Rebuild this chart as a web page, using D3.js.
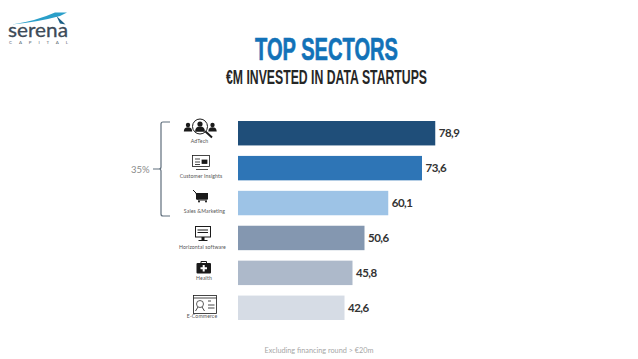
<!DOCTYPE html>
<html>
<head>
<meta charset="utf-8">
<script src="https://cdn.jsdelivr.net/npm/d3@7"></script>
<style>
  html, body { margin: 0; padding: 0; background: #fff; }
  svg { display: block; }
</style>
</head>
<body>
<div id="chart"></div>
<script>
const sectors = ["AdTech", "Customer Insights", "Sales &Marketing", "Horizontal software", "Health", "E-Commerce"];
const invested = [78.9, 73.6, 60.1, 50.6, 45.8, 42.6];
const barColors = ["#1f4e79", "#2e75b6", "#9dc3e6", "#8497b0", "#adb9ca", "#d6dce5"];

const width = 638;
const height = 359;

const svg = d3.select("#chart").append("svg")
    .attr("width", width)
    .attr("height", height);

// scales
const x = d3.scaleLinear().domain([0, 100]).range([238, 488]);
const y = d3.scaleBand().domain(sectors).range([121, 320]).paddingInner(0.3);
const fmt = v => v.toFixed(1).replace(".", ",");

// bars
svg.selectAll(".bar")
    .data(invested)
    .enter()
    .append("rect")
    .attr("class", "bar")
    .attr("x", x(0))
    .attr("y", (d, i) => y(sectors[i]))
    .attr("width", d => x(d) - x(0))
    .attr("height", y.bandwidth())
    .attr("fill", (d, i) => barColors[i]);

// value labels
svg.selectAll(".val")
    .data(invested)
    .enter()
    .append("text")
    .attr("class", "val")
    .attr("x", d => x(d) + 3.5)
    .attr("y", (d, i) => y(sectors[i]) + y.bandwidth() / 2 + 4)
    .attr("font-family", "Lato")
    .attr("font-weight", 700)
    .attr("font-size", 11.5)
    .attr("letter-spacing", -0.5)
    .attr("fill", "#333")
    .text(fmt);

// titles, squeezed because no condensed face matches exactly
function fitted(txt, left, right, base, size, color, heavy) {
    svg.append("text")
        .attr("x", left)
        .attr("y", base)
        .attr("textLength", right - left)
        .attr("lengthAdjust", "spacingAndGlyphs")
        .attr("font-family", "'Liberation Sans Narrow', 'Liberation Sans'")
        .attr("font-weight", 700)
        .attr("font-size", size)
        .attr("fill", color)
        .attr("stroke", color)
        .attr("stroke-width", heavy)
        .text(txt);
}
fitted("TOP SECTORS", 255, 398, 59.5, 31.5, "#1272b8", 0.7);
fitted("€M INVESTED IN DATA STARTUPS", 226, 427, 84, 20, "#262626", 0);

// footer
svg.append("text")
    .attr("x", 319).attr("y", 352.5)
    .attr("text-anchor", "middle")
    .attr("font-family", "Lato")
    .attr("font-size", 7.3)
    .attr("fill", "#a6a6a6")
    .text("Excluding financing round > €20m");

// bracket and share
svg.append("path")
    .attr("d", "M170,122 H163 Q161,122 161,124 V167 Q161,169 159,169 H153 H159 Q161,169 161,171 V214 Q161,216 163,216 H170")
    .attr("fill", "none")
    .attr("stroke", "#5f6e7c")
    .attr("stroke-width", 1.2);
svg.append("text")
    .attr("x", 131).attr("y", 172.5)
    .attr("font-family", "Lato")
    .attr("font-size", 9.5)
    .attr("fill", "#8a8a8a")
    .text("35%");

// sector captions
const labelCenter = [199.5, 201, 204.5, 202.5, 204, 202];
const labelBase = [142.5, 178, 213, 249, 279.5, 318];
sectors.forEach((s, i) => {
    svg.append("text")
        .attr("x", labelCenter[i])
        .attr("y", labelBase[i])
        .attr("text-anchor", "middle")
        .attr("font-family", "Lato")
        .attr("font-size", 5.2)
        .attr("letter-spacing", 0.1)
        .attr("fill", "#555")
        .text(s);
});

// icons
const ink = "#1a1a1a";
function person(g, cx, cy, r) {
    g.append("circle").attr("cx", cx).attr("cy", cy).attr("r", r).attr("fill", ink);
    g.append("path").attr("d", `M${cx - r * 1.9},${cy + r * 3} Q${cx - r * 1.9},${cy + r} ${cx},${cy + r} Q${cx + r * 1.9},${cy + r} ${cx + r * 1.9},${cy + r * 3} Z`).attr("fill", ink);
}

const ad = svg.append("g");
person(ad, 188, 125, 2.2);
person(ad, 212.5, 125, 2.2);
ad.append("circle").attr("cx", 200).attr("cy", 126.5).attr("r", 7.5).attr("fill", "#fff").attr("stroke", ink).attr("stroke-width", 1);
person(ad, 200, 124, 2.6);
ad.append("line").attr("x1", 205.5).attr("y1", 131.5).attr("x2", 212).attr("y2", 137.5).attr("stroke", ink).attr("stroke-width", 2);

const ci = svg.append("g").attr("fill", "none").attr("stroke", ink).attr("stroke-width", 0.8);
ci.append("rect").attr("x", 192.5).attr("y", 155.5).attr("width", 17).attr("height", 11);
ci.append("path").attr("d", "M195,159 H200 M195,162 H200 M195,164.5 H200 M196,169.5 H208");
ci.append("rect").attr("x", 202).attr("y", 160).attr("width", 5).attr("height", 3.5).attr("fill", ink);

const cart = svg.append("g");
cart.append("path").attr("d", "M193,190 L196,193 L198,200 H207").attr("fill", "none").attr("stroke", ink).attr("stroke-width", 1);
cart.append("rect").attr("x", 196).attr("y", 193).attr("width", 12).attr("height", 6.5).attr("fill", ink);
cart.append("circle").attr("cx", 199).attr("cy", 201.5).attr("r", 1).attr("fill", ink);
cart.append("circle").attr("cx", 206).attr("cy", 201.5).attr("r", 1).attr("fill", ink);

const hs = svg.append("g");
hs.append("rect").attr("x", 195.5).attr("y", 226.5).attr("width", 15).attr("height", 10.5).attr("fill", "#fff").attr("stroke", ink).attr("stroke-width", 1);
hs.append("path").attr("d", "M197.5,230 H203 M197.5,232.5 H208 M203,230 H208").attr("stroke", ink).attr("stroke-width", 1);
hs.append("rect").attr("x", 201.5).attr("y", 237).attr("width", 3).attr("height", 3).attr("fill", ink);
hs.append("rect").attr("x", 198.5).attr("y", 240).attr("width", 9).attr("height", 1).attr("fill", ink);

const he = svg.append("g");
he.append("rect").attr("x", 196.5).attr("y", 263).attr("width", 14.5).attr("height", 10.5).attr("rx", 1).attr("fill", ink);
he.append("path").attr("d", "M201,263 V261.5 H206.5 V263").attr("fill", "none").attr("stroke", ink).attr("stroke-width", 1);
he.append("path").attr("d", "M203.7,265 V271.5 M200.5,268.2 H207").attr("stroke", "#fff").attr("stroke-width", 2);

const ec = svg.append("g");
ec.append("rect").attr("x", 193.5).attr("y", 295.5).attr("width", 23).attr("height", 18).attr("fill", "#fff").attr("stroke", ink).attr("stroke-width", 0.8);
ec.append("line").attr("x1", 193.5).attr("y1", 298).attr("x2", 216.5).attr("y2", 298).attr("stroke", ink).attr("stroke-width", 0.8);
ec.append("circle").attr("cx", 200).attr("cy", 304).attr("r", 3.5).attr("fill", "none").attr("stroke", ink).attr("stroke-width", 0.7);
ec.append("path").attr("d", "M195.5,311 L198,307 M204.5,311 L202,307 M208,301 H211 M208,305 H214.5 M208,308 H214.5").attr("stroke", ink).attr("stroke-width", 0.8);

// logo
const logo = svg.append("g");
logo.append("path").attr("d", "M12,24.5 Q36,21 55,12.5 L67,12.5 L60,16 Q38,22 12,24.5 Z").attr("fill", "#2a9fc9");
logo.append("path").attr("d", "M56.5,16 L65.5,24.5 L60,23.5 Z").attr("fill", "#1b5f86");
logo.append("text")
    .attr("x", 8).attr("y", 37)
    .attr("textLength", 60)
    .attr("lengthAdjust", "spacingAndGlyphs")
    .attr("font-family", "Lato")
    .attr("font-size", 19)
    .attr("stroke", "#3c4a57")
    .attr("stroke-width", 0.3)
    .attr("fill", "#3c4a57")
    .text("serena");
logo.append("text")
    .attr("x", 9).attr("y", 43.5)
    .attr("textLength", 59)
    .attr("font-family", "Lato")
    .attr("font-size", 4.5)
    .attr("fill", "#5a6672")
    .text("CAPITAL");
</script>
</body>
</html>
